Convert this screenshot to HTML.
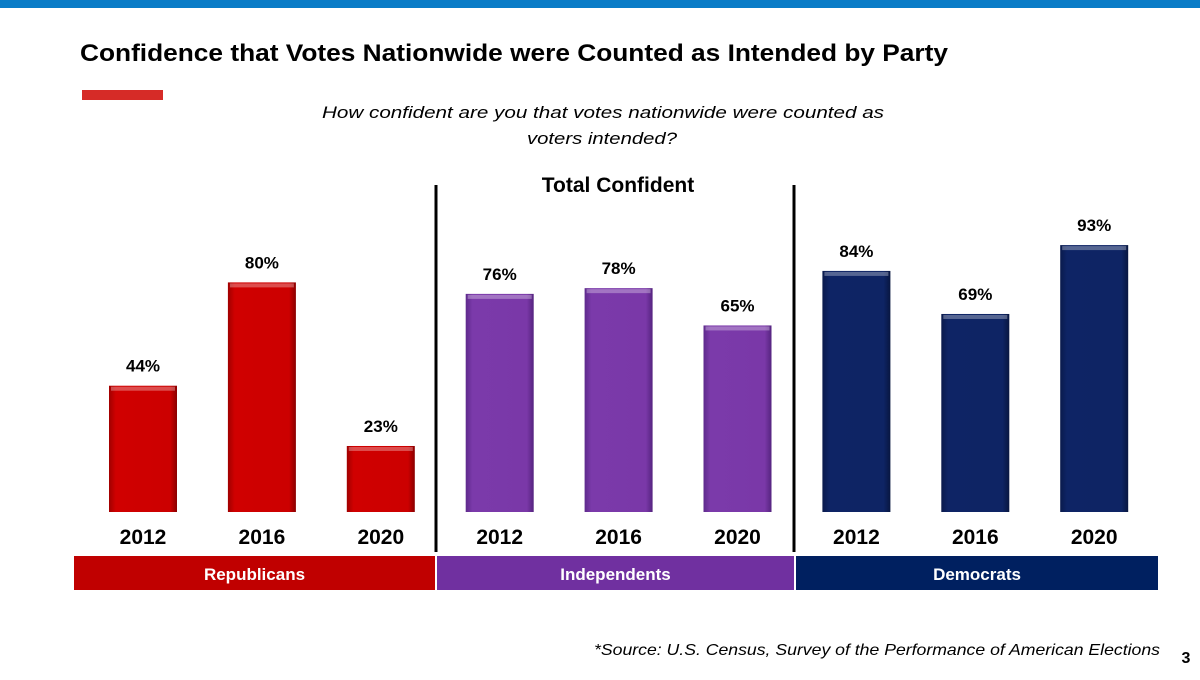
<!DOCTYPE html>
<html><head><meta charset="utf-8"><style>
body{margin:0;width:1200px;height:675px;background:#fff;overflow:hidden;font-family:"Liberation Sans",sans-serif}
</style></head><body>
<svg width="1200" height="675" xmlns="http://www.w3.org/2000/svg">
<defs>
<linearGradient id="gr" x1="0" x2="1"><stop offset="0" stop-color="#a00000"/><stop offset="0.1" stop-color="#d00000"/><stop offset="0.9" stop-color="#cc0000"/><stop offset="1" stop-color="#8a0000"/></linearGradient>
<linearGradient id="gp" x1="0" x2="1"><stop offset="0" stop-color="#5e2a8c"/><stop offset="0.1" stop-color="#7b3aaa"/><stop offset="0.9" stop-color="#7a38a8"/><stop offset="1" stop-color="#55247f"/></linearGradient>
<linearGradient id="gb" x1="0" x2="1"><stop offset="0" stop-color="#0a1a4c"/><stop offset="0.1" stop-color="#0e2465"/><stop offset="0.9" stop-color="#0e2464"/><stop offset="1" stop-color="#081640"/></linearGradient>
</defs>
<rect x="0" y="0" width="1200" height="8" fill="#0a7cc7"/>
<text x="80" y="61" font-size="24" font-weight="bold" textLength="868" lengthAdjust="spacingAndGlyphs">Confidence that Votes Nationwide were Counted as Intended by Party</text>
<rect x="82" y="90" width="81" height="10" fill="#d62b27"/>
<text x="322" y="118" font-size="17" font-style="italic" textLength="562" lengthAdjust="spacingAndGlyphs">How confident are you that votes nationwide were counted as</text>
<text x="527" y="144" font-size="17" font-style="italic" textLength="150" lengthAdjust="spacingAndGlyphs">voters intended?</text>
<text x="618" y="192" font-size="21" font-weight="bold" text-anchor="middle">Total Confident</text>
<line x1="436" y1="185" x2="436" y2="552" stroke="#000" stroke-width="3"/>
<line x1="794" y1="185" x2="794" y2="552" stroke="#000" stroke-width="3"/>
<g id="bars"></g>
<text x="594" y="655" font-size="16" font-style="italic" textLength="566" lengthAdjust="spacingAndGlyphs">*Source: U.S. Census, Survey of the Performance of American Elections</text>
<text x="1186" y="663" font-size="16" font-weight="bold" text-anchor="middle">3</text>
</svg>
<script>
const parties=["Republicans","Independents","Democrats"];
const years=["2012","2016","2020"];
const repValues=[44,80,23];
const indValues=[76,78,65];
const demValues=[84,69,93];
const series=[repValues,indValues,demValues];
const fills=["url(#gr)","url(#gp)","url(#gb)"];
const bandColors=["#c00000","#7030a0","#002060"];
const NS="http://www.w3.org/2000/svg";
const g=document.getElementById("bars");
const base=512, scale=2.87, x0=143, step=118.9, bw=68;
function y(v){return base-v*scale;}
function xc(p,i){return x0+(p*3+i)*step;}
function mk(t,a){const e=document.createElementNS(NS,t);for(const k in a)e.setAttribute(k,a[k]);g.appendChild(e);return e;}
series.forEach((vals,p)=>{
  vals.forEach((v,i)=>{
    const c=xc(p,i);
    const r=mk("rect",{x:c-bw/2,y:y(v),width:bw,height:base-y(v),fill:fills[p]});
    
    
    const h=mk("rect",{x:c-bw/2+2,y:y(v)+1,width:bw-4,height:4,fill:"rgba(255,255,255,0.3)"});
    
    
    const t=mk("text",{x:c,y:y(v)-14,"font-size":17,"font-weight":"bold","text-anchor":"middle"});
    t.textContent=v+"%";
    
    
    const yl=mk("text",{x:c,y:544,"font-size":21,"font-weight":"bold","text-anchor":"middle"});
    yl.textContent=years[i];
    
    
  });
  const bx=[74,437,796][p], bwid=[361,357,362][p];
  const b=mk("rect",{x:bx,y:556,width:bwid,height:34,fill:bandColors[p]});
  
  
  const bt=mk("text",{x:bx+bwid/2,y:580,"font-size":17,"font-weight":"bold",fill:"#fff","text-anchor":"middle"});
  bt.textContent=parties[p];
  
  
});
</script>
</body></html>
